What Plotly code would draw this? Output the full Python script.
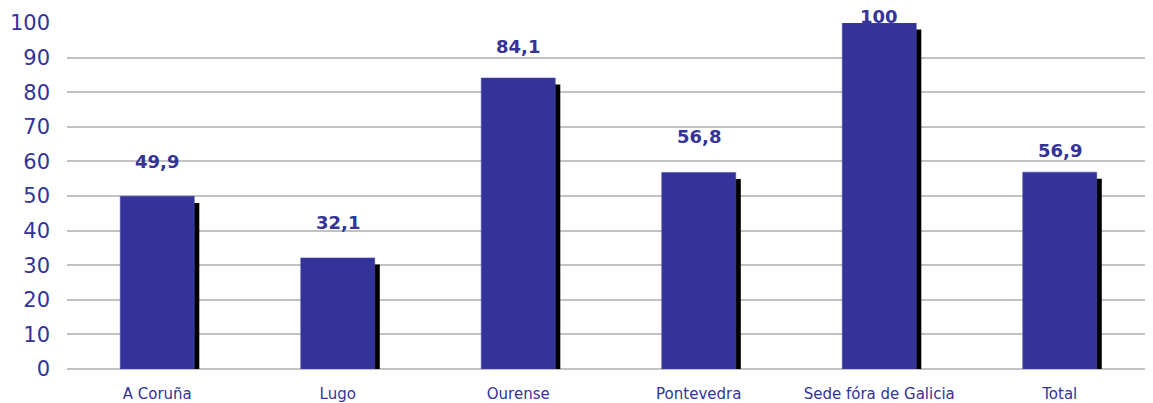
import plotly.graph_objects as go

categories = ["A Coruña", "Lugo", "Ourense", "Pontevedra", "Sede fóra de Galicia", "Total"]
values = [49.9, 32.1, 84.1, 56.8, 100, 56.9]
# vertical positions of the value labels (data units), as placed in the reference
label_y = [60.1, 42.3, 93.1, 67.1, 102.0, 63.1]
y_ticks = [0, 10, 20, 30, 40, 50, 60, 70, 80, 90, 100]

BLUE = "#333399"
FONT = "DejaVu Sans"
bar_w = 0.41
shadow_dx = 0.028   # shadow shift to the right (category units)
shadow_dy = 1.9     # shadow drop (value units)
PX_PER_UNIT = 3.466
Y_MAX = 100

fig = go.Figure()
fig.add_trace(go.Bar(
    x=categories, y=[v - shadow_dy for v in values],
    width=bar_w, offset=-bar_w / 2 + shadow_dx,
    marker=dict(color="black", line=dict(width=0)),
    hoverinfo="skip", showlegend=False,
))
fig.add_trace(go.Bar(
    x=categories, y=values,
    width=bar_w, offset=-bar_w / 2,
    marker=dict(color=BLUE, line=dict(width=0.6, color="#4a4aa8")),
    showlegend=False,
))

def fmt(v):
    return ("%g" % v).replace(".", ",")

for c, v, ly in zip(categories, values, label_y):
    yy = min(ly, Y_MAX)
    fig.add_annotation(x=c, y=yy, yshift=(ly - yy) * PX_PER_UNIT,
                       text="<b>%s</b>" % fmt(v), showarrow=False,
                       font=dict(family=FONT, size=18, color=BLUE),
                       xanchor="center", yanchor="middle")

fig.update_layout(
    width=1145, height=395,
    margin=dict(l=59, r=3, t=15, b=34),
    barmode="overlay",
    plot_bgcolor="white", paper_bgcolor="white",
    font=dict(family=FONT, color=BLUE),
)
fig.update_yaxes(
    range=[0, Y_MAX], tickvals=y_ticks, showgrid=True, gridcolor="#c2c2c2", gridwidth=2,
    zeroline=True, zerolinecolor="#c2c2c2", zerolinewidth=2,
    tickfont=dict(family=FONT, size=21, color=BLUE), ticklabelstandoff=16,
    showline=False, automargin=False,
)
fig.update_xaxes(
    tickfont=dict(family=FONT, size=15, color=BLUE), showline=False, showgrid=False,
    ticklabelstandoff=14, automargin=False,
)

fig.write_html("out.html")
